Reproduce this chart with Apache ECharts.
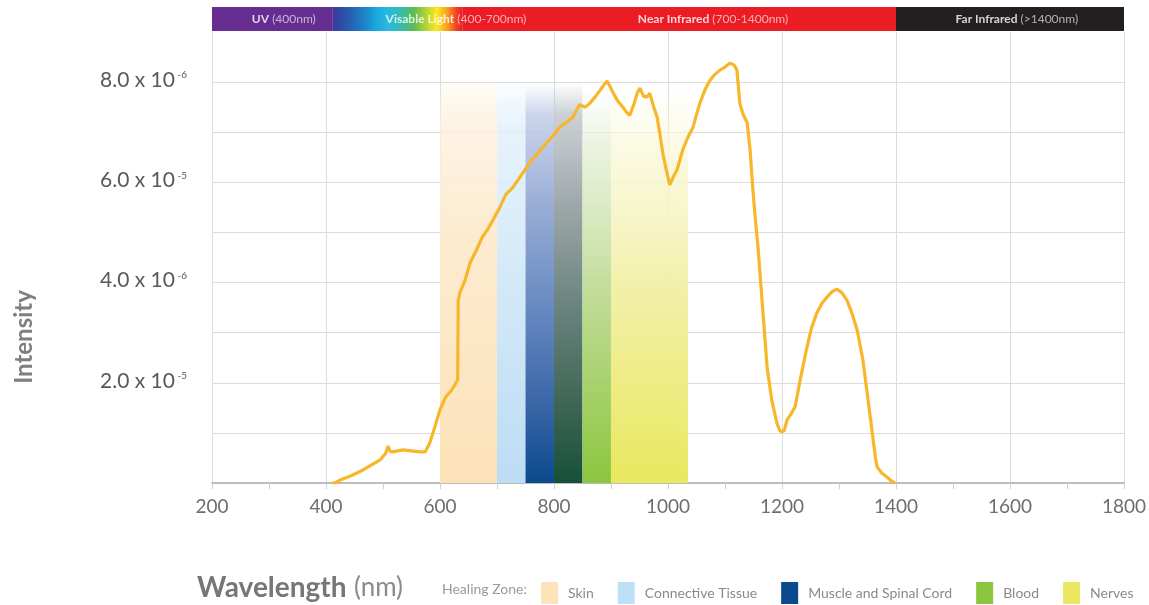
<!DOCTYPE html>
<html>
<head>
<meta charset="utf-8">
<script src="https://cdn.jsdelivr.net/npm/echarts@6/dist/echarts.min.js"></script>
<style>
html,body{margin:0;padding:0;background:#fff;}
#c{width:1149px;height:605px;}
</style>
</head>
<body>
<div id="c"></div>
<script>
// ---- DATA ----
var xTicks = [200, 400, 600, 800, 1000, 1200, 1400, 1600, 1800];
var yTickLabels = {2: ['2.0 x 10', '-5'], 4: ['4.0 x 10', '-6'], 6: ['6.0 x 10', '-5'], 8: ['8.0 x 10', '-6']};
var intensity = [
[410,0],[416,0],[425,0.06],[445,0.15],[465,0.26],[480,0.36],[495,0.46],[505,0.6],[509,0.74],[512,0.64],[516,0.62],[535,0.66],[550,0.64],[565,0.62],[574,0.62],[582,0.8],[591,1.12],[600,1.46],[609,1.7],[621,1.86],[631,2.06],[632,3.65],[635,3.8],[644,4.05],[653,4.4],[664,4.65],[674,4.9],[683,5.05],[693,5.25],[705,5.5],[715,5.75],[728,5.9],[743,6.15],[758,6.4],[773,6.6],[788,6.8],[800,6.95],[810,7.1],[822,7.2],[833,7.3],[840,7.45],[845,7.55],[855,7.5],[863,7.58],[872,7.7],[881,7.84],[888,7.95],[893,8.02],[898,7.92],[904,7.78],[912,7.62],[921,7.5],[927,7.4],[933,7.34],[940,7.55],[946,7.78],[951,7.88],[957,7.72],[963,7.7],[968,7.78],[975,7.5],[981,7.3],[986,6.95],[991,6.58],[997,6.25],[1003,5.95],[1009,6.1],[1016,6.25],[1021,6.45],[1026,6.65],[1035,6.9],[1044,7.1],[1050,7.35],[1056,7.58],[1065,7.85],[1074,8.04],[1082,8.15],[1091,8.24],[1100,8.3],[1109,8.38],[1116,8.34],[1121,8.24],[1126,7.58],[1132,7.35],[1139,7.19],[1144,6.65],[1149,5.85],[1153,5.3],[1158,4.7],[1165,3.65],[1174,2.3],[1182,1.66],[1191,1.2],[1196,1.05],[1200,1.02],[1204,1.05],[1209,1.26],[1216,1.38],[1223,1.52],[1232,2.06],[1244,2.72],[1252,3.1],[1261,3.39],[1270,3.58],[1279,3.71],[1288,3.82],[1296,3.87],[1305,3.8],[1314,3.65],[1323,3.38],[1332,3.05],[1342,2.45],[1351,1.66],[1360,0.86],[1364,0.5],[1367,0.32],[1375,0.2],[1384,0.12],[1392,0.04],[1398,0]
];
// healing zones: [start nm, end nm, top value]
var zoneNames = ['Skin', 'Connective Tissue', 'Muscle and Spinal Cord', 'Blood', 'Nerves'];
var zoneRanges = {
  'Skin': [[600, 700, 8.1]],
  'Connective Tissue': [[700, 750, 8.1]],
  'Muscle and Spinal Cord': [[750, 800, 8.0], [800, 850, 8.0]],
  'Blood': [[850, 900, 7.9]],
  'Nerves': [[900, 1035, 7.9]]
};
// spectrum bar bands: [key, start nm, end nm]
var spectrumBands = [['uv', 200, 412], ['visible', 412, 640], ['nir', 640, 1400], ['fir', 1400, 1800]];
var spectrumLabels = [['UV', '(400nm)'], ['Visable Light', '(400-700nm)'], ['Near Infrared', '(700-1400nm)'], ['Far Infrared', '(>1400nm)']];
var spectrumLabelCenters = [326, 628, 1079, 1612];

// ---- STYLES ----
var FONT = 'Lato, "Open Sans", sans-serif';
function vgrad(stops) {
  return {type: 'linear', x: 0, y: 0, x2: 0, y2: 1, colorStops: stops.map(function (s) { return {offset: s[0], color: s[1]}; })};
}
var zoneSwatch = {
  'Skin': '#fce3b9', 'Connective Tissue': '#bde0f6', 'Muscle and Spinal Cord': '#0b4a8e', 'Blood': '#8cc63f', 'Nerves': '#ece760'
};
var zoneFills = {
  'Skin': [vgrad([[0, 'rgba(253,236,205,0)'], [0.12, 'rgba(253,240,220,0.8)'], [0.4, '#fdebd0'], [1, '#fce2b8']])],
  'Connective Tissue': [vgrad([[0, 'rgba(220,238,250,0)'], [0.12, 'rgba(225,240,251,0.8)'], [0.5, '#d3e9f8'], [1, '#bcdcf4']])],
  'Muscle and Spinal Cord': [
    vgrad([[0, 'rgba(200,210,235,0)'], [0.08, 'rgba(190,202,230,0.8)'], [0.3, '#9aaed6'], [0.55, '#6a8bc2'], [0.8, '#3a67a8'], [1, '#0b4a8e']]),
    vgrad([[0, 'rgba(200,205,212,0)'], [0.08, 'rgba(195,200,206,0.85)'], [0.3, '#9fa8aa'], [0.55, '#6b8580'], [0.8, '#3f6655'], [1, '#17503a']])
  ],
  'Blood': [vgrad([[0, 'rgba(235,242,225,0)'], [0.15, 'rgba(230,240,215,0.8)'], [0.5, '#c3dd9c'], [1, '#8cc63f']])],
  'Nerves': [vgrad([[0, 'rgba(250,250,225,0)'], [0.15, 'rgba(250,249,220,0.8)'], [0.5, '#f2f0aa'], [1, '#e9e85e']])]
};
var bandFills = {
  uv: '#662d91',
  visible: {type: 'linear', x: 0, y: 0, x2: 1, y2: 0, colorStops: [
    {offset: 0, color: '#3b3a9c'}, {offset: 0.08, color: '#2d4fa8'}, {offset: 0.16, color: '#2468b6'},
    {offset: 0.25, color: '#1b86c9'}, {offset: 0.33, color: '#1aa6df'}, {offset: 0.42, color: '#2ab8e0'},
    {offset: 0.52, color: '#34bbb0'}, {offset: 0.62, color: '#5dbb57'}, {offset: 0.72, color: '#b5d334'},
    {offset: 0.8, color: '#fbe920'}, {offset: 0.88, color: '#f7a01e'}, {offset: 0.95, color: '#ee4424'}, {offset: 1, color: '#ed1c24'}]},
  nir: '#ec1c24',
  fir: '#231f20'
};

var zoneSeries = zoneNames.map(function (name) {
  return {
    name: name, type: 'bar', data: [], xAxisIndex: 0, yAxisIndex: 0,
    itemStyle: {color: zoneSwatch[name]},
    markArea: {
      silent: true,
      data: zoneRanges[name].map(function (r, i) {
        return [{xAxis: r[0], yAxis: r[2], itemStyle: {color: zoneFills[name][i], borderWidth: 0}}, {xAxis: r[1], yAxis: 0}];
      })
    }
  };
});

var splitColors = [];
for (var i = 0; i <= 9; i++) splitColors.push(i === 0 || i === 9 ? 'rgba(0,0,0,0)' : '#dcdcdc');

var option = {
  backgroundColor: '#fff',
  animation: false,
  textStyle: {fontFamily: FONT},
  grid: [
    {left: 212, right: 25, top: 32, bottom: 122},
    {left: 212, right: 25, top: 7, height: 24}
  ],
  xAxis: [
    {
      type: 'value', min: xTicks[0], max: xTicks[xTicks.length - 1], interval: 200, gridIndex: 0,
      axisLine: {show: true, lineStyle: {color: '#a6a6a6', width: 1.5}},
      axisTick: {show: true, length: 6, lineStyle: {color: '#cfcfcf'}},
      minorTick: {show: true, splitNumber: 2, length: 6, lineStyle: {color: '#cfcfcf'}},
      axisLabel: {color: '#6d6e70', fontSize: 19, margin: 14, fontFamily: FONT, formatter: function (v) { return String(v); }},
      splitLine: {show: true, lineStyle: {color: '#dcdcdc', width: 1}}
    },
    {type: 'value', min: 200, max: 1800, gridIndex: 1, show: false}
  ],
  yAxis: [
    {
      type: 'value', min: 0, max: 9, interval: 1, gridIndex: 0,
      axisLine: {show: false}, axisTick: {show: false},
      axisLabel: {
        margin: 25,
        formatter: function (v) {
          var t = yTickLabels[v];
          return t ? '{m|' + t[0] + '}{s| ' + t[1] + '}' : '';
        },
        rich: {
          m: {fontSize: 21, color: '#58595b', fontFamily: FONT, lineHeight: 24, padding: [0, 0, 4, 0]},
          s: {fontSize: 10, color: '#58595b', fontFamily: FONT, verticalAlign: 'top', lineHeight: 10}
        }
      },
      splitLine: {show: true, lineStyle: {color: splitColors, width: 1}}
    },
    {type: 'value', min: 0, max: 1, gridIndex: 1, show: false}
  ],
  legend: {
    data: zoneNames,
    left: 536, top: 577, width: 612,
    icon: 'rect', itemWidth: 17, itemHeight: 22, itemGap: 24,
    textStyle: {color: '#8a8a8a', fontSize: 14, fontFamily: FONT, padding: [0, 0, 0, 5]},
    selectedMode: false
  },
  graphic: [
    {type: 'text', left: 442, top: 582, style: {text: 'Healing Zone:', fill: '#9a9a9a', fontSize: 14, fontFamily: FONT}},
    {type: 'text', x: 24, y: 337, rotation: Math.PI / 2, style: {text: 'Intensity', fill: '#7f7f7f', fontSize: 24, fontWeight: 'bold', fontFamily: FONT, align: 'center', verticalAlign: 'middle'}},
    {type: 'text', left: 197, top: 574, style: {
      text: '{a|Wavelength} {b|(nm)}',
      rich: {a: {fontSize: 28, fontWeight: 'bold', fill: '#767676', fontFamily: FONT}, b: {fontSize: 26, fill: '#8a8a8a', fontFamily: FONT, padding: [0, 0, 0, 4]}}
    }}
  ],
  series: zoneSeries.concat([
    {
      name: 'Spectrum', type: 'bar', data: [], xAxisIndex: 1, yAxisIndex: 1,
      markArea: {
        silent: true,
        data: spectrumBands.map(function (b) {
          return [{xAxis: b[1], yAxis: 1, itemStyle: {color: bandFills[b[0]], borderWidth: 0}}, {xAxis: b[2], yAxis: 0}];
        })
      }
    },
    {
      name: 'SpectrumLabels', type: 'scatter', xAxisIndex: 1, yAxisIndex: 1, symbolSize: 0, silent: true,
      data: spectrumLabelCenters.map(function (c, i) { return {value: [c, 0.5], name: i}; }),
      label: {
        show: true, position: 'inside',
        formatter: function (p) { var l = spectrumLabels[p.dataIndex]; return '{b|' + l[0] + '} {n|' + l[1] + '}'; },
        rich: {
          b: {fontSize: 12, fontWeight: 'bold', color: '#ffffff', fontFamily: FONT},
          n: {fontSize: 12, color: 'rgba(255,255,255,0.8)', fontFamily: FONT}
        }
      }
    },
    {
      name: 'Intensity', type: 'line', data: intensity, xAxisIndex: 0, yAxisIndex: 0,
      showSymbol: false, symbol: 'none', smooth: false,
      lineStyle: {color: '#f8b62a', width: 3.2},
      z: 5
    }
  ])
};
var chart = echarts.init(document.getElementById('c'));
chart.setOption(option);
</script>
</body>
</html>
